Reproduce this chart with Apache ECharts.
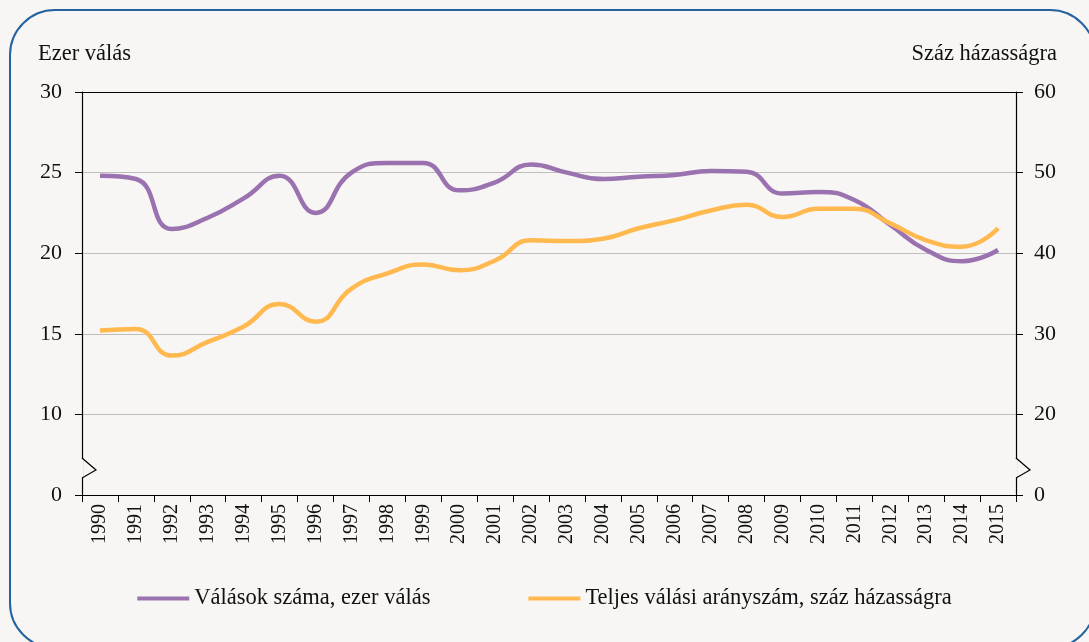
<!DOCTYPE html>
<html>
<head>
<meta charset="utf-8">
<script src="https://cdn.jsdelivr.net/npm/echarts@6/dist/echarts.min.js"></script>
<style>
html,body{margin:0;padding:0;background:#f7f6f4;}
#chart{width:1089px;height:642px;}
</style>
</head>
<body>
<div id="chart"></div>
<script>
// adatok
var years=['1990','1991','1992','1993','1994','1995','1996','1997','1998','1999','2000','2001','2002','2003','2004','2005','2006','2007','2008','2009','2010','2011','2012','2013','2014','2015'];
var valasokSzama=[24.8,24.6,21.5,22.2,23.4,24.8,22.5,25.0,25.6,25.6,23.9,24.4,25.5,25.0,24.6,24.75,24.85,25.1,25.05,23.7,23.8,23.3,21.75,20.2,19.5,20.2];
var valasiAranyszam=[30.4,30.6,27.3,29.0,30.9,33.7,31.5,35.6,37.5,38.6,37.9,39.1,41.6,41.5,41.8,43.1,44.1,45.3,46.0,44.5,45.5,45.5,43.7,41.6,40.8,43.1];
var seriesNames=['Válások száma, ezer válás','Teljes válási arányszám, száz házasságra'];

var FONT='"Liberation Serif", "DejaVu Serif", serif';
var BG='#f7f6f4';

var chart=echarts.init(document.getElementById('chart'));

// tengelytörés jel
function breakMark(x,dir){
    return [
        {type:'line',silent:true,z:100,shape:{x1:x,y1:459,x2:x,y2:478},style:{stroke:BG,lineWidth:3}},
        {type:'polyline',silent:true,z:101,shape:{points:[[x,458],[x+dir*14,470],[x,478]]},style:{stroke:'#000',lineWidth:1.2,fill:null}}
    ];
}

var option={
    backgroundColor:BG,
    animation:false,
    textStyle:{fontFamily:FONT},
    grid:{left:82,right:73,top:92,bottom:147},
    legend:{
        bottom:27,
        left:'center',
        itemGap:98,
        itemWidth:52,
        itemHeight:4,
        icon:'rect',
        textStyle:{fontFamily:FONT,fontSize:22.5,color:'#111'},
        data:seriesNames
    },
    xAxis:[{
        type:'category',
        data:years,
        boundaryGap:true,
        axisLine:{lineStyle:{color:'#000',width:1.2}},
        axisTick:{show:true,length:7,lineStyle:{color:'#000'}},
        axisLabel:{rotate:90,fontFamily:FONT,fontSize:20,color:'#111',margin:9}
    },{
        type:'category',
        data:years,
        position:'top',
        axisLine:{lineStyle:{color:'#000',width:1.2}},
        axisTick:{show:false},
        axisLabel:{show:false}
    }],
    yAxis:[{
        type:'value',
        min:5,max:30,interval:5,
        name:'Ezer válás',
        nameLocation:'end',
        nameGap:26,
        nameTextStyle:{fontFamily:FONT,fontSize:22.5,color:'#111',align:'left',padding:[0,0,0,-44]},
        axisLine:{show:true,lineStyle:{color:'#000',width:1.2}},
        axisTick:{show:true,length:7,lineStyle:{color:'#000'}},
        axisLabel:{fontFamily:FONT,fontSize:22,color:'#111',margin:20,formatter:function(v){return v==5?'0':v;}},
        splitLine:{show:true,lineStyle:{color:'#bdbdbd',width:1.2}}
    },{
        type:'value',
        min:10,max:60,interval:10,
        name:'Száz házasságra',
        nameLocation:'end',
        nameGap:26,
        nameTextStyle:{fontFamily:FONT,fontSize:22.5,color:'#111',align:'right',padding:[0,-41,0,0]},
        axisLine:{show:true,lineStyle:{color:'#000',width:1.2}},
        axisTick:{show:true,length:7,lineStyle:{color:'#000'}},
        axisLabel:{fontFamily:FONT,fontSize:22,color:'#111',margin:18,formatter:function(v){return v==10?'0':v;}},
        splitLine:{show:false}
    }],
    series:[{
        name:seriesNames[0],
        type:'line',
        yAxisIndex:0,
        data:valasokSzama,
        smooth:0.5,
        showSymbol:false,
        lineStyle:{color:'#9b72b0',width:4.5},
        itemStyle:{color:'#9b72b0'}
    },{
        name:seriesNames[1],
        type:'line',
        yAxisIndex:1,
        data:valasiAranyszam,
        smooth:0.5,
        showSymbol:false,
        lineStyle:{color:'#ffb94f',width:4.5},
        itemStyle:{color:'#ffb94f'}
    }],
    graphic:[
        {type:'rect',silent:true,z:-1,shape:{x:10,y:10,width:1085,height:638,r:45},style:{fill:null,stroke:'#2563a0',lineWidth:2}}
    ].concat(breakMark(82,1)).concat(breakMark(1016,1))
};
chart.setOption(option);
</script>
</body>
</html>
